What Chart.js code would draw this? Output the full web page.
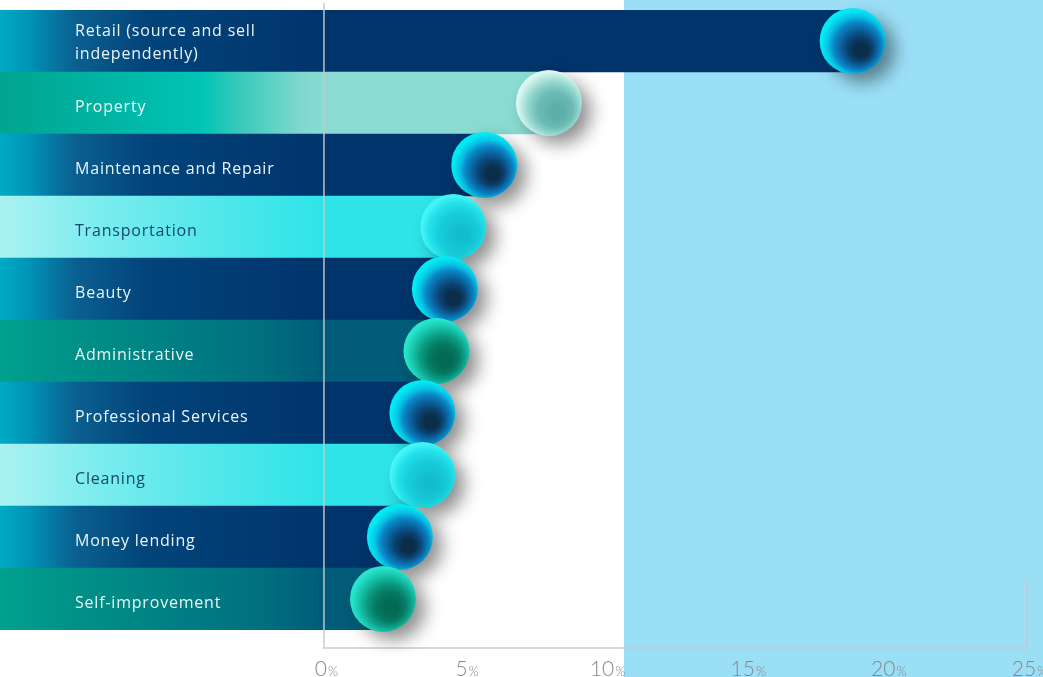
<!DOCTYPE html>
<html>
<head>
<meta charset="utf-8">
<title>Side income sources</title>
<script src="https://cdn.jsdelivr.net/npm/chart.js@4.4.1/dist/chart.umd.min.js"></script>
<style>
  html, body { margin: 0; padding: 0; background: #ffffff; }
  #wrap { width: 1043px; height: 677px; overflow: hidden; }
</style>
</head>
<body>
<div id="wrap"><canvas id="incomeChart" width="1043" height="677"></canvas></div>
<script>
// Categories, top to bottom (Retail wraps onto two lines)
const categories = [
    ['Retail (source and sell', 'independently)'],
    'Property',
    'Maintenance and Repair',
    'Transportation',
    'Beauty',
    'Administrative',
    'Professional Services',
    'Cleaning',
    'Money lending',
    'Self-improvement'
];

// Share of respondents, in percent
const shares = [18.8, 8.0, 5.7, 4.6, 4.3, 4.0, 3.5, 3.5, 2.7, 2.1];

// Axis ticks along the bottom
const tickValues = [0, 5, 10, 15, 20, 25];
const tickSuffix = '%';

// Colour scheme of every row
const rowTone = ['navy', 'mint', 'navy', 'aqua', 'navy', 'teal', 'navy', 'aqua', 'navy', 'teal'];

const tones = {
    navy: {
        bar: [[0, '#00aac4'], [0.08, '#0096b9'], [0.23, '#0a6090'], [0.45, '#02447a'], [1, '#00346b']],
        ball: [[0, '#0a2e4a'], [0.22, '#0b4272'], [0.44, '#0a66a2'], [0.63, '#0a88c8'], [0.8, '#08c2e4'], [1, '#00ecf4']],
        text: '#eaf5f9'
    },
    mint: {
        bar: [[0, '#00a58f'], [0.25, '#00b09f'], [0.62, '#00c4b4'], [0.75, '#3ccabb'], [0.93, '#80d8cf'], [1, '#8adbd2']],
        ball: [[0, '#5cafa8'], [0.4, '#6cbcb5'], [0.7, '#96d8d0'], [1, '#dcf6f2']],
        text: '#f4fbfa'
    },
    aqua: {
        bar: [[0, '#aaf2f2'], [0.3, '#7cecee'], [0.6, '#58e8eb'], [1, '#2ee4e8']],
        ball: [[0, '#12bdcd'], [0.5, '#18cdda'], [0.8, '#24e2ea'], [1, '#44f4f6']],
        text: '#17476f'
    },
    teal: {
        bar: [[0, '#00a08e'], [0.35, '#008a86'], [0.8, '#00707f'], [1, '#005c78']],
        ball: [[0, '#036a54'], [0.3, '#067a64'], [0.55, '#0c9c84'], [0.8, '#18c8ae'], [1, '#28e4cc']],
        text: '#eaf6f4'
    }
};

// Value range: the bars run in from the left page edge, the 0 line sits inside
const X_MIN = -11.52;
const X_MAX = 25.57;
// Light blue panel starts here (in axis units)
const PANEL_FROM = 10.67;

// Horizontal gradient of a bar, fading in from the left edge to the 0 line
function barFill(context) {
    const chart = context.chart;
    const area = chart.chartArea;
    if (!area) return '#00336a';
    const tone = tones[rowTone[context.dataIndex]];
    const zeroX = chart.scales.x.getPixelForValue(0);
    const g = chart.ctx.createLinearGradient(area.left, 0, zeroX, 0);
    tone.bar.forEach(([stop, col]) => g.addColorStop(stop, col));
    return g;
}

// Light blue panel behind the right part
const panelPlugin = {
    id: 'panel',
    beforeDatasetsDraw(chart) {
        const ctx = chart.ctx;
        const x0 = chart.scales.x.getPixelForValue(PANEL_FROM);
        ctx.save();
        ctx.fillStyle = '#9bdff7';
        ctx.fillRect(x0, 0, chart.width - x0, chart.height);
        ctx.restore();
    }
};

// Frame lines, balls at the bar ends, row labels and the tick labels
const decorPlugin = {
    id: 'decor',
    afterDatasetsDraw(chart) {
        const ctx = chart.ctx;
        const area = chart.chartArea;
        const xs = chart.scales.x;
        const meta = chart.getDatasetMeta(0);
        const zeroX = xs.getPixelForValue(0);
        const endX = xs.getPixelForValue(25);
        const baseY = area.bottom + 18;

        // frame: zero line, bottom line and a short right edge
        ctx.save();
        ctx.strokeStyle = 'rgba(198,200,202,0.95)';
        ctx.lineWidth = 1.5;
        ctx.beginPath();
        ctx.moveTo(zeroX, area.top - 7);
        ctx.lineTo(zeroX, baseY);
        ctx.lineTo(endX, baseY);
        ctx.lineTo(endX, area.bottom - 51);
        ctx.stroke();
        ctx.restore();

        // balls, drawn top to bottom so the lower one overlaps
        meta.data.forEach((bar, i) => {
            const tone = tones[rowTone[i]];
            const r = bar.height / 2 + 2;
            const cx = bar.x;
            const cy = bar.y;

            // soft drop shadow towards the lower right
            ctx.save();
            ctx.shadowColor = 'rgba(0,0,0,0.45)';
            ctx.shadowBlur = 18;
            ctx.shadowOffsetX = 10;
            ctx.shadowOffsetY = 9;
            ctx.beginPath();
            ctx.arc(cx, cy, r - 1, 0, Math.PI * 2);
            ctx.fillStyle = tone.ball[0][1];
            ctx.fill();
            ctx.restore();

            // light comes from the upper left, dark core lower right
            const g = ctx.createRadialGradient(cx + r * 0.26, cy + r * 0.28, r * 0.2, cx + r * 0.1, cy + r * 0.1, r * 1.05);
            tone.ball.forEach(([stop, col]) => g.addColorStop(stop, col));
            ctx.save();
            ctx.beginPath();
            ctx.arc(cx, cy, r, 0, Math.PI * 2);
            ctx.fillStyle = g;
            ctx.fill();
            ctx.restore();
        });

        // row labels inside the bars
        ctx.save();
        ctx.font = '16px "Open Sans", "Noto Sans", sans-serif';
        ctx.letterSpacing = '0.8px';
        ctx.textAlign = 'left';
        ctx.textBaseline = 'middle';
        meta.data.forEach((bar, i) => {
            const lines = Array.isArray(categories[i]) ? categories[i] : [categories[i]];
            ctx.fillStyle = tones[rowTone[i]].text;
            if (lines.length === 1) {
                ctx.fillText(lines[0], 75, bar.y + 4);
            } else {
                lines.forEach((line, k) => {
                    ctx.fillText(line, 75, bar.y - 10 + k * 23);
                });
            }
        });
        ctx.restore();

        // tick labels: number with a small percent sign
        ctx.save();
        ctx.textBaseline = 'alphabetic';
        ctx.textAlign = 'left';
        ctx.fillStyle = '#888888';
        tickValues.forEach(v => {
            const px = xs.getPixelForValue(v);
            const num = String(v);
            ctx.font = '300 21px "Lato", "Open Sans", sans-serif';
            const wNum = ctx.measureText(num).width;
            ctx.font = '300 13px "Lato", "Open Sans", sans-serif';
            const wPct = ctx.measureText(tickSuffix).width;
            const start = px - (wNum + wPct) / 2 + 2;
            ctx.font = '300 21px "Lato", "Open Sans", sans-serif';
            ctx.fillText(num, start, area.bottom + 46);
            ctx.font = '300 13px "Lato", "Open Sans", sans-serif';
            ctx.fillText(tickSuffix, start + wNum + 1, area.bottom + 46);
        });
        ctx.restore();
    }
};

new Chart(document.getElementById('incomeChart'), {
    type: 'bar',
    data: {
        labels: categories,
        datasets: [{
            data: shares,
            base: X_MIN,
            backgroundColor: barFill,
            borderWidth: 0,
            barPercentage: 1,
            categoryPercentage: 1
        }]
    },
    options: {
        indexAxis: 'y',
        responsive: false,
        animation: false,
        devicePixelRatio: 1,
        layout: { padding: { top: 10, bottom: 47, left: 0, right: 0 } },
        plugins: {
            legend: { display: false },
            tooltip: { enabled: false }
        },
        scales: {
            x: { type: 'linear', min: X_MIN, max: X_MAX, display: false },
            y: { type: 'category', display: false }
        }
    },
    plugins: [panelPlugin, decorPlugin]
});
</script>
</body>
</html>
